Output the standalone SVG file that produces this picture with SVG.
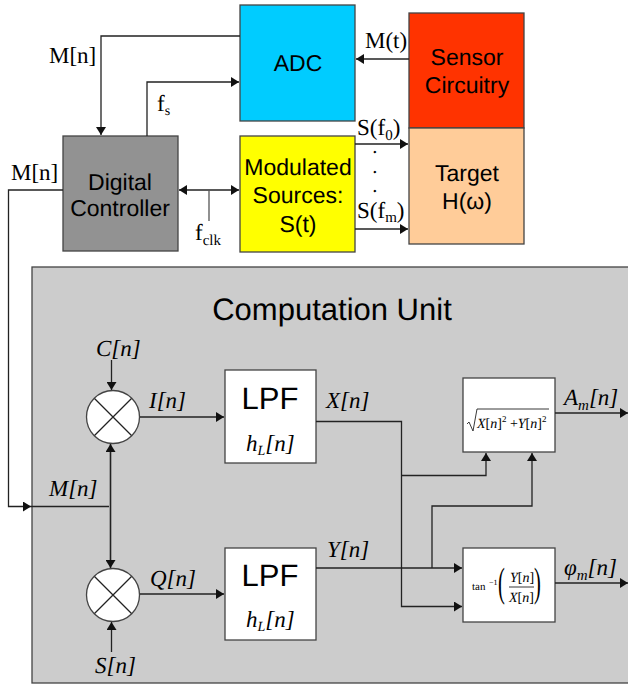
<svg xmlns="http://www.w3.org/2000/svg" width="628" height="685" viewBox="0 0 628 685">
<style>
text{text-rendering:geometricPrecision}
.box{stroke:#444;stroke-width:1.3}
.w{fill:#fff;stroke:#444;stroke-width:1.3}
.c{fill:none;stroke:#222;stroke-width:1.3}
.s{font-family:"Liberation Sans",Arial,sans-serif;font-size:23px;text-anchor:middle;fill:#000}
.t{font-family:"Liberation Serif","Times New Roman",serif;font-size:23px;fill:#000}
.i{font-family:"Liberation Serif","Times New Roman",serif;font-size:23px;font-style:italic;fill:#000}
.f{font-family:"Liberation Serif","Times New Roman",serif;font-size:14px;fill:#000}
.fi{font-family:"Liberation Serif","Times New Roman",serif;font-size:14px;font-style:italic;fill:#000}
.dot{font-family:"Liberation Serif","Times New Roman",serif;font-size:15px;font-weight:bold;fill:#000}
.p{font-family:"Liberation Serif","Times New Roman",serif;font-size:41px;fill:#000}
</style>
<defs>
<marker id="a" markerUnits="userSpaceOnUse" markerWidth="9" markerHeight="10" refX="8" refY="5" orient="auto-start-reverse"><path d="M0 0L8 5L0 10z" fill="#111"/></marker>
</defs>
<g id="computation-unit"><rect class="box" x="32" y="267" width="600" height="416" fill="#ccc"/><text x="332" y="320" class="s" style="font-size:31px">Computation Unit</text></g>
<g id="adc"><rect class="box" x="240" y="5" width="115" height="116" fill="#0cf"/><text class="s" x="298" y="71">ADC</text></g>
<g id="sensor"><rect class="box" x="409" y="13" width="115" height="115" fill="#f30"/><text class="s" x="467" y="65">Sensor</text><text class="s" x="467" y="93">Circuitry</text></g>
<g id="target"><rect class="box" x="409" y="128" width="115" height="116" fill="#fc9"/><text class="s" x="467" y="181">Target</text><text class="s" x="467" y="209">H(ω)</text></g>
<g id="controller"><rect class="box" x="63" y="136" width="115" height="115" fill="#929292"/><text class="s" x="120" y="190">Digital</text><text class="s" x="120" y="216">Controller</text></g>
<g id="sources"><rect class="box" x="240" y="136" width="115" height="116" fill="#ff0"/><text class="s" x="298" y="175">Modulated</text><text class="s" x="298" y="203">Sources:</text><text class="s" x="298" y="232">S(t)</text></g>
<g id="mixer-i"><circle class="w" cx="113" cy="417" r="26.500"/><path class="c" d="M94.500 398.500L131.500 435.500M131.500 398.500L94.500 435.500"/></g>
<g id="mixer-q"><circle class="w" cx="113" cy="595" r="26.500"/><path class="c" d="M94.500 576.500L131.500 613.500M131.500 576.500L94.500 613.500"/></g>
<g id="lpf-x"><rect class="w" x="225" y="370" width="91" height="93"/><text class="s" x="270" y="409" style="font-size:31px">LPF</text><text class="i" x="246" y="451">h<tspan font-size="14" dy="4">L</tspan><tspan dy="-4">[n]</tspan></text></g>
<g id="lpf-y"><rect class="w" x="225" y="548" width="91" height="92"/><text class="s" x="270" y="586" style="font-size:31px">LPF</text><text class="i" x="246" y="627">h<tspan font-size="14" dy="4">L</tspan><tspan dy="-4">[n]</tspan></text></g>
<g id="magnitude"><rect class="w" x="463" y="378" width="92" height="74"/>
<path d="M467 424L469 422L473 431L477 409H549" fill="none" stroke="#222" stroke-width="0.9"/>
<text class="fi" x="477" y="428">X<tspan font-style="normal">[</tspan>n<tspan font-style="normal">]</tspan><tspan font-size="9" dy="-6" font-style="normal">2</tspan><tspan dy="6" font-style="normal"> +</tspan>Y<tspan font-style="normal">[</tspan>n<tspan font-style="normal">]</tspan><tspan font-size="9" dy="-6" font-style="normal">2</tspan></text></g>
<g id="phase"><rect class="w" x="463" y="548" width="92" height="74"/>
<text class="f" x="472" y="590" style="font-size:11px">tan</text><text class="f" x="489" y="585" style="font-size:8px">−1</text>
<text class="p" transform="translate(498 596) scale(.5 1)">(</text><text class="p" transform="translate(534 596) scale(.5 1)">)</text>
<path d="M509 587H534" stroke="#222" stroke-width="0.9"/><text class="fi" x="510" y="582">Y<tspan font-style="normal">[</tspan>n<tspan font-style="normal">]</tspan></text><text class="fi" x="509" y="602">X<tspan font-style="normal">[</tspan>n<tspan font-style="normal">]</tspan></text></g>
<g id="connectors">
<path class="c" d="M240 36H101V135" marker-end="url(#a)"/>
<path class="c" d="M147 136V82H239" marker-end="url(#a)"/>
<path class="c" style="stroke-width:1.6" d="M179 190H239" marker-start="url(#a)" marker-end="url(#a)"/>
<path class="c" style="stroke:#555" d="M209 190V221"/>
<path class="c" style="stroke-width:1.6" d="M409 59H356" marker-end="url(#a)"/>
<path class="c" d="M355 144H408" marker-end="url(#a)"/>
<path class="c" d="M355 229H408" marker-end="url(#a)"/>
<path class="c" d="M63 190H8.500V506.500H31" marker-end="url(#a)"/>
<path class="c" d="M31 506.500H109"/>
<path class="c" style="stroke-width:1.6" d="M110.500 444V568" marker-start="url(#a)" marker-end="url(#a)"/>
<path class="c" d="M111.500 360V390" marker-end="url(#a)"/>
<path class="c" d="M111.500 652V622" marker-end="url(#a)"/>
<path class="c" d="M140 417H224" marker-end="url(#a)"/>
<path class="c" style="stroke-width:1.6" d="M140 594H224" marker-end="url(#a)"/>
<path class="c" d="M316 421.500H401.500V606.500H462" marker-end="url(#a)"/>
<path class="c" d="M401.500 475.500H486V453" marker-end="url(#a)"/>
<path class="c" d="M316 568H462" marker-end="url(#a)"/>
<path class="c" d="M432 568V506H532V453" marker-end="url(#a)"/>
<path class="c" d="M555 413H628" marker-end="url(#a)"/>
<path class="c" d="M555 583H628" marker-end="url(#a)"/>
</g>
<g id="labels">
<text class="t" x="49" y="63">M[n]</text>
<text class="t" x="11" y="180">M[n]</text>
<text class="t" x="157" y="111">f<tspan font-size="14" dy="4">s</tspan></text>
<text class="t" x="195" y="240">f<tspan font-size="15" dy="5">clk</tspan></text>
<text class="t" x="365" y="48">M(t)</text>
<text class="t" x="357" y="135">S(f<tspan font-size="15" dy="5">0</tspan><tspan dy="-5">)</tspan></text>
<text class="t" x="357" y="218">S(f<tspan font-size="15" dy="4">m</tspan><tspan dy="-4">)</tspan></text>
<text class="dot" x="373" y="153">.</text><text class="dot" x="373" y="173">.</text><text class="dot" x="373" y="192">.</text>
<text class="i" x="96" y="356">C[n]</text>
<text class="i" x="149" y="408">I[n]</text>
<text class="i" x="49" y="496">M[n]</text>
<text class="i" x="150" y="586">Q[n]</text>
<text class="i" x="95" y="673">S[n]</text>
<text class="i" x="326" y="408">X[n]</text>
<text class="i" x="327" y="557">Y[n]</text>
<text class="i" x="564" y="405">A<tspan font-size="15" dy="5">m</tspan><tspan dy="-5">[n]</tspan></text>
<text class="i" x="564" y="575">φ<tspan font-size="15" dy="5">m</tspan><tspan dy="-5">[n]</tspan></text>
</g>
</svg>
